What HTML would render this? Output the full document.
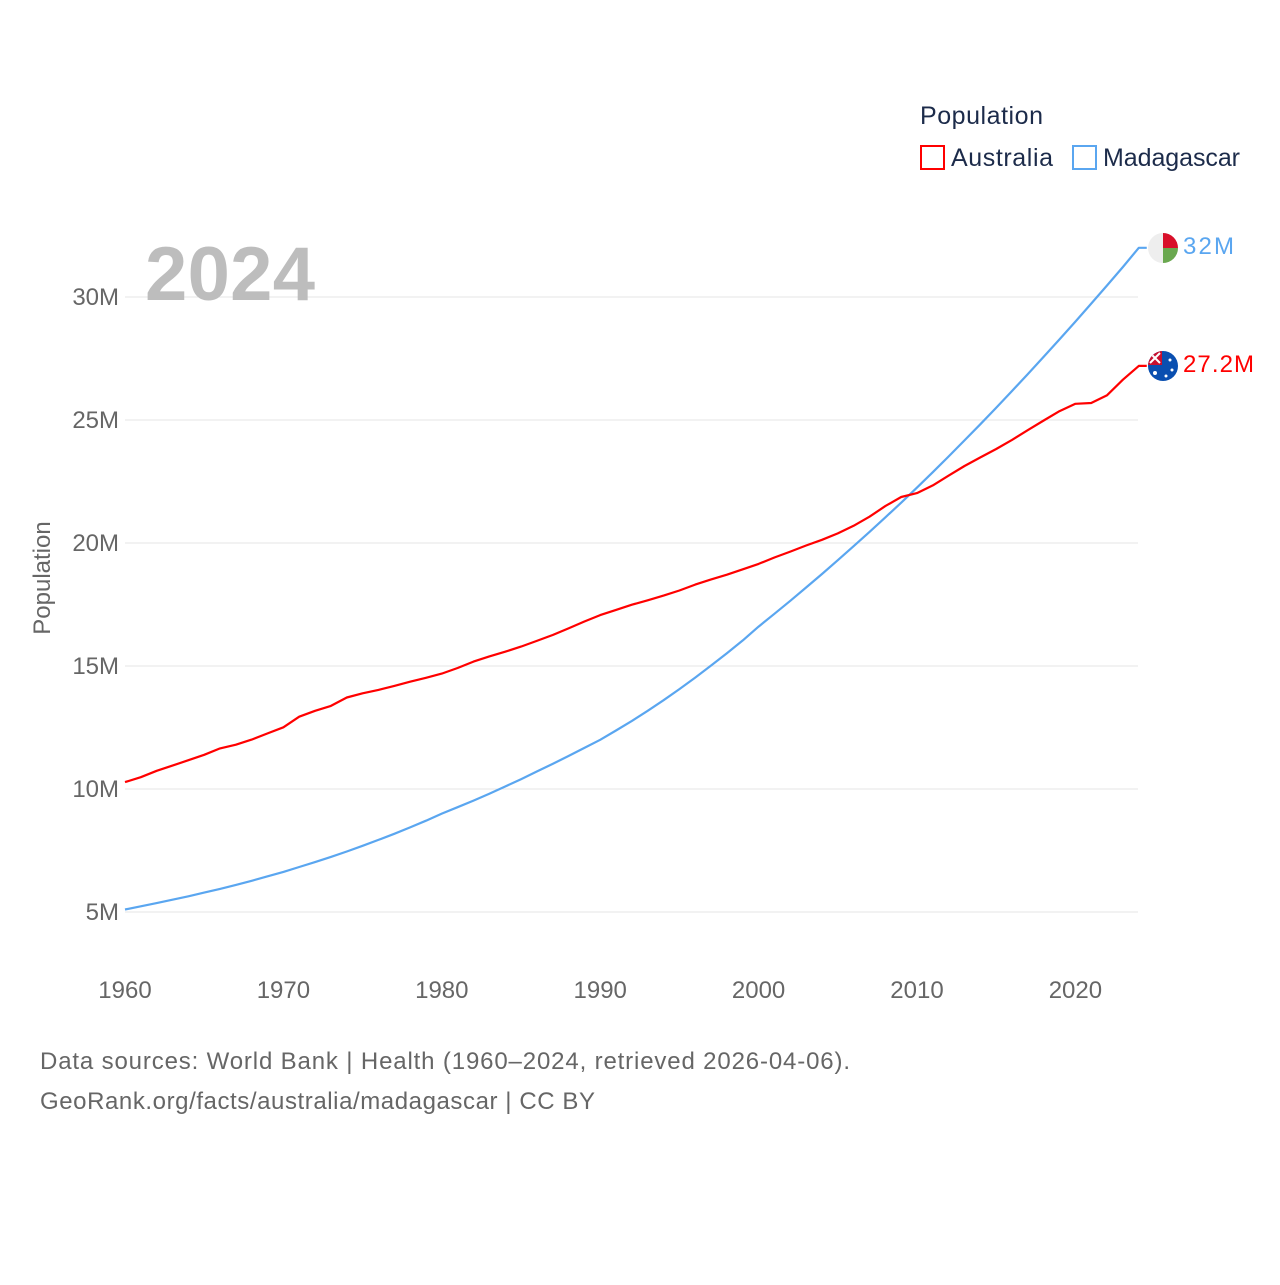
<!DOCTYPE html>
<html><head><meta charset="utf-8"><style>
body{margin:0;background:#fff;font-family:"Liberation Sans",sans-serif;}
svg text{font-family:"Liberation Sans",sans-serif;}
</style></head><body>
<svg id="chart" width="1280" height="1280" viewBox="0 0 1280 1280">
<g id="grid"></g>
<g id="ylabels"></g>
<g id="xlabels"></g>
<text x="145" y="300" font-size="76" font-weight="bold" fill="#bdbdbd" textLength="170">2024</text>
<text transform="translate(50,578) rotate(-90)" text-anchor="middle" font-size="24" fill="#666">Population</text>
<g id="series"></g>
<g>
<text x="920" y="124" font-size="25" fill="#1c2b4a" textLength="123">Population</text>
<g><rect x="921" y="146" width="23" height="23" fill="none" stroke="#ff0000" stroke-width="2"/><text x="951" y="166" font-size="25" fill="#1c2b4a" textLength="102">Australia</text></g>
<g><rect x="1073" y="146" width="23" height="23" fill="none" stroke="#5aa6f0" stroke-width="2"/><text x="1103" y="166" font-size="25" fill="#1c2b4a" textLength="137">Madagascar</text></g>
</g>
<g>
<clipPath id="c1"><circle cx="1163" cy="248" r="15"/></clipPath>
<g clip-path="url(#c1)"><rect x="1148" y="233" width="30" height="30" fill="#eee"/><rect x="1163" y="233" width="15" height="15" fill="#d8102a"/><rect x="1163" y="248" width="15" height="15" fill="#6aa84f"/></g>
</g>
<g>
<clipPath id="c2"><circle cx="1163" cy="366" r="15"/></clipPath>
<g clip-path="url(#c2)"><rect x="1148" y="351" width="30" height="30" fill="#0a4fb0"/><rect x="1148" y="351" width="14" height="14" fill="#c8102e"/><path d="M1150 353 L1160 363 M1160 353 L1150 363" stroke="#fff" stroke-width="2"/><circle cx="1155" cy="373" r="2" fill="#fff"/><circle cx="1170" cy="360" r="1.5" fill="#fff"/><circle cx="1172" cy="370" r="1.5" fill="#fff"/><circle cx="1166" cy="376" r="1.5" fill="#fff"/></g>
</g>
<text x="1183" y="254" font-size="24" fill="#5aa6f0" textLength="51">32M</text>
<text x="1183" y="372" font-size="24" fill="#ff0000" textLength="71">27.2M</text>
<text x="40" y="1069" font-size="24" fill="#666" textLength="810">Data sources: World Bank | Health (1960–2024, retrieved 2026-04-06).</text>
<text x="40" y="1109" font-size="24" fill="#666" textLength="555">GeoRank.org/facts/australia/madagascar | CC BY</text>
</svg>
<script>
const years = [];
for (let y = 1960; y <= 2024; y++) years.push(y);
const yTicks = [5, 10, 15, 20, 25, 30];
const yTickLabels = ["5M", "10M", "15M", "20M", "25M", "30M"];
const xTicks = [1960, 1970, 1980, 1990, 2000, 2010, 2020];
const australia = [10.28,10.48,10.74,10.95,11.17,11.39,11.65,11.80,12.01,12.26,12.51,12.94,13.18,13.38,13.72,13.89,14.03,14.19,14.36,14.52,14.69,14.92,15.18,15.39,15.58,15.79,16.02,16.26,16.53,16.81,17.07,17.28,17.49,17.67,17.86,18.07,18.31,18.52,18.71,18.93,19.15,19.41,19.65,19.90,20.13,20.39,20.70,21.07,21.50,21.87,22.03,22.34,22.74,23.13,23.48,23.82,24.19,24.59,24.98,25.36,25.66,25.69,26.01,26.64,27.20];
const madagascar = [5.10,5.23,5.36,5.50,5.64,5.79,5.94,6.10,6.27,6.45,
6.63,6.83,7.03,7.24,7.46,7.69,7.93,8.18,8.44,8.71,
9.00,9.26,9.53,9.81,10.10,10.40,10.71,11.02,11.34,11.67,
12.00,12.38,12.77,13.18,13.61,14.06,14.53,15.02,15.52,16.04,
16.60,17.12,17.65,18.19,18.74,19.30,19.87,20.45,21.04,21.64,
22.25,22.88,23.52,24.17,24.83,25.50,26.18,26.87,27.57,28.28,
29.00,29.73,30.47,31.22,32.00];
const X = y => 125 + (y - 1960) * 15.84;
const Y = v => 1035 - v * 24.6;
const ns = "http://www.w3.org/2000/svg";
const grid = document.getElementById('grid'), yl = document.getElementById('ylabels'), xl = document.getElementById('xlabels'), ser = document.getElementById('series');
yTicks.forEach((t, i) => {
  const l = document.createElementNS(ns, 'line');
  l.setAttribute('x1', 125); l.setAttribute('x2', 1138);
  l.setAttribute('y1', Y(t)); l.setAttribute('y2', Y(t));
  l.setAttribute('stroke', '#e6e6e6');
  
  
  grid.appendChild(l);
  const tx = document.createElementNS(ns, 'text');
  tx.setAttribute('x', 119); tx.setAttribute('y', Y(t) + 8);
  tx.setAttribute('text-anchor', 'end'); tx.setAttribute('font-size', '24'); tx.setAttribute('fill', '#666');
  tx.textContent = yTickLabels[i];
  
  
  yl.appendChild(tx);
});
xTicks.forEach(t => {
  const tx = document.createElementNS(ns, 'text');
  tx.setAttribute('x', X(t)); tx.setAttribute('y', 998);
  tx.setAttribute('text-anchor', 'middle'); tx.setAttribute('font-size', '24'); tx.setAttribute('fill', '#666');
  tx.textContent = t;
  
  
  xl.appendChild(tx);
});
function line(vals, color, name) {
  const p = document.createElementNS(ns, 'path');
  let d = vals.map((v, i) => (i ? 'L' : 'M') + X(years[i]).toFixed(1) + ' ' + Y(v).toFixed(1)).join(' ');
  d += ' L' + (X(2024) + 8) + ' ' + Y(vals[vals.length - 1]).toFixed(1);
  p.setAttribute('d', d);
  p.setAttribute('fill', 'none'); p.setAttribute('stroke', color); p.setAttribute('stroke-width', '2.2');
  p.setAttribute('stroke-linejoin', 'round');
  
  
  ser.appendChild(p);
}
line(madagascar, '#5aa6f0', 'madagascar-line');
line(australia, '#ff0000', 'australia-line');
</script>
</body></html>
